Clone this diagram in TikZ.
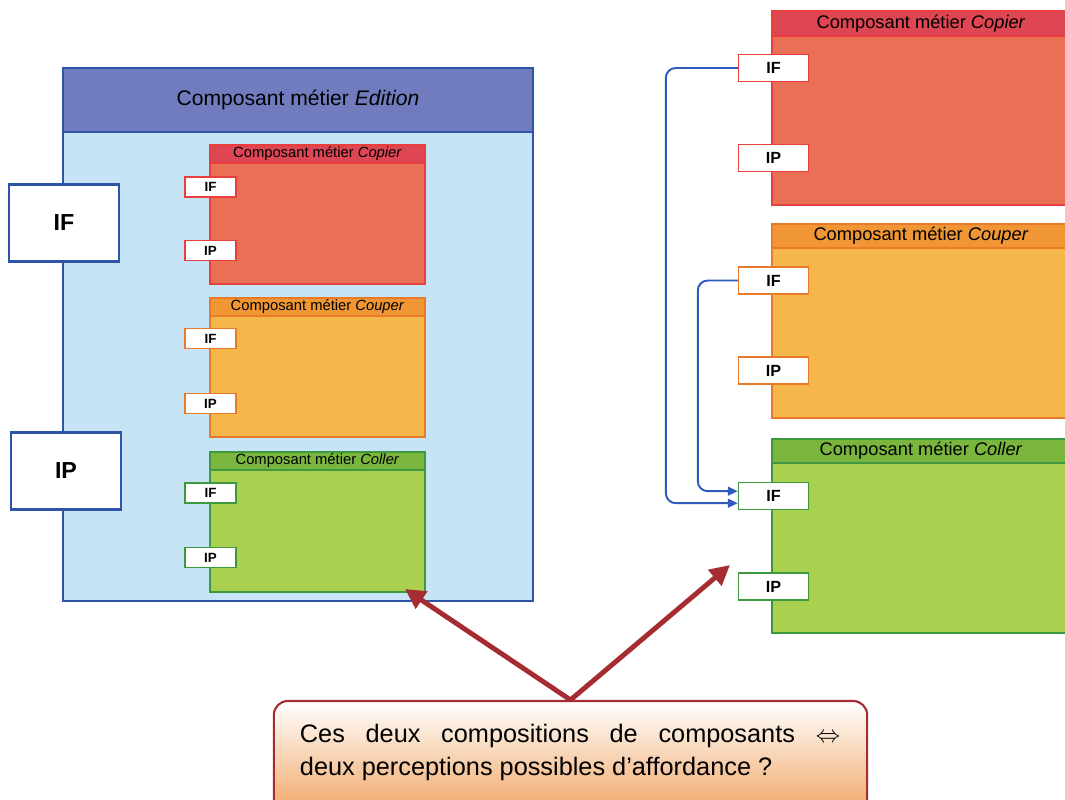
\documentclass[tikz,border=0pt]{standalone}
\usepackage{fontspec}
\setmainfont{Liberation Sans}
\usetikzlibrary{arrows.meta}

\definecolor{bordbleu}{RGB}{45,85,170}
\definecolor{entete}{RGB}{112,124,190}
\definecolor{fondbleu}{RGB}{198,228,246}
\definecolor{copiertete}{RGB}{222,70,84}
\definecolor{copierfond}{RGB}{233,112,84}
\definecolor{copierbord}{RGB}{232,62,62}
\definecolor{coupertete}{RGB}{240,150,52}
\definecolor{couperfond}{RGB}{245,182,74}
\definecolor{couperbord}{RGB}{232,122,42}
\definecolor{collertete}{RGB}{122,182,62}
\definecolor{collerfond}{RGB}{170,208,80}
\definecolor{collerbord}{RGB}{62,152,62}
\definecolor{lienbleu}{RGB}{50,90,190}
\definecolor{flecherouge}{RGB}{165,45,50}
\definecolor{bulleorange}{RGB}{240,165,100}

\tikzset{
  grandport/.style={draw=bordbleu, line width=2pt, fill=white, minimum width=2.75cm,
    minimum height=1.93cm, inner sep=0pt, font=\bfseries\fontsize{16.5}{18}\selectfont},
  petitport/.style={draw=#1, line width=1pt, fill=white, minimum width=1.275cm,
    minimum height=0.5cm, inner sep=0pt, font=\bfseries\fontsize{9.5}{10}\selectfont},
  port/.style={draw=#1, line width=1pt, fill=white, minimum width=1.75cm,
    minimum height=0.68cm, inner sep=0pt, font=\bfseries\fontsize{11.5}{12}\selectfont},
  lien/.style={lienbleu, line width=1.4pt, rounded corners=0.25cm,
    -{Triangle[length=0.25cm,width=0.22cm]}},
  fleche/.style={flecherouge, line width=3.5pt, -{Triangle[length=0.5cm,width=0.5cm]}},
}

\begin{document}
\begin{tikzpicture}[x=0.025cm, y=-0.025cm]
	\clip (0,0) rectangle (1065,800);
	\fill[white] (0,0) rectangle (1065,800);
	
	% composant Edition (a gauche)
	\draw[bordbleu, line width=2pt, fill=fondbleu] (63,68) rectangle (533,601);
	\draw[bordbleu, line width=2pt, fill=entete] (63,68) rectangle (533,132);
	\node[font=\fontsize{15}{18}\selectfont] (tEdition) at (298,100) {Composant métier \textit{Edition}};
	\node[grandport] (eIF) at (64,223) {IF};
	\node[grandport] (eIP) at (66,471) {IP};
	
	% sous-composants imbriques
	\foreach \nom/\col/\ya/\yb/\yc/\yf/\yp in {Copier/copier/145/163/284/187/250.5,
		Couper/couper/298/316/437/338.5/403.5, Coller/coller/452/470/592/493/557.5}
	{
		\draw[draw=\col bord, line width=1pt, fill=\col fond] (210,\ya) rectangle (425,\yc);
		\draw[draw=\col bord, line width=1pt, fill=\col tete] (210,\ya) rectangle (425,\yb);
		\node[font=\fontsize{10.5}{11}\selectfont] (tg\col) at (317.5,{(\ya+\yb)/2}) {Composant métier \textit{\nom}};
		\node[petitport=\col bord] (g\col IF) at (210.5,\yf) {IF};
		\node[petitport=\col bord] (g\col IP) at (210.5,\yp) {IP};
	}
	
	% composants juxtaposes (a droite)
	\foreach \nom/\col/\ya/\yb/\yc/\yf/\yp in {Copier/copier/11/36/205/68/158,
		Couper/couper/224/248/418/280.5/370.5, Coller/coller/439/463/633/496/586.5}
	{
		\draw[draw=\col bord, line width=1pt, fill=\col fond] (772,\ya) rectangle (1080,\yc);
		\draw[draw=\col bord, line width=1pt, fill=\col tete] (772,\ya) rectangle (1080,\yb);
		\node[font=\fontsize{13}{14}\selectfont] (td\col) at (921,{(\ya+\yb)/2}) {Composant métier \textit{\nom}};
		\node[port=\col bord] (d\col IF) at (773.5,\yf) {IF};
		\node[port=\col bord] (d\col IP) at (773.5,\yp) {IP};
	}
	
	% liaisons IF -> IF
	\draw[lien] (dcopierIF.west) -- ++(-72,0) |- ([yshift=-0.18cm]dcollerIF.west);
	\draw[lien] (dcouperIF.west) -- ++(-40,0) |- ([yshift=0.12cm]dcollerIF.west);
	
	% bulle de question
	\node[draw=flecherouge, line width=1.5pt, rounded corners=0.35cm, top color=white,
		bottom color=bulleorange, minimum width=14.83cm, minimum height=2.85cm] (bulle) at (570.5,758) {};
	\node[text width=13.5cm, align=justify, font=\fontsize{18}{23.4}\selectfont] (texte) at (570,752)
		{Ces deux compositions de composants $\Leftrightarrow$\linebreak deux perceptions possibles d’affordance ?};
	
	\coordinate (cible1) at (405,589);
	\coordinate (cible2) at (730,565);
	\draw[fleche] (bulle.north) -- (cible1);
	\draw[fleche] (bulle.north) -- (cible2);
\end{tikzpicture}
\end{document}
